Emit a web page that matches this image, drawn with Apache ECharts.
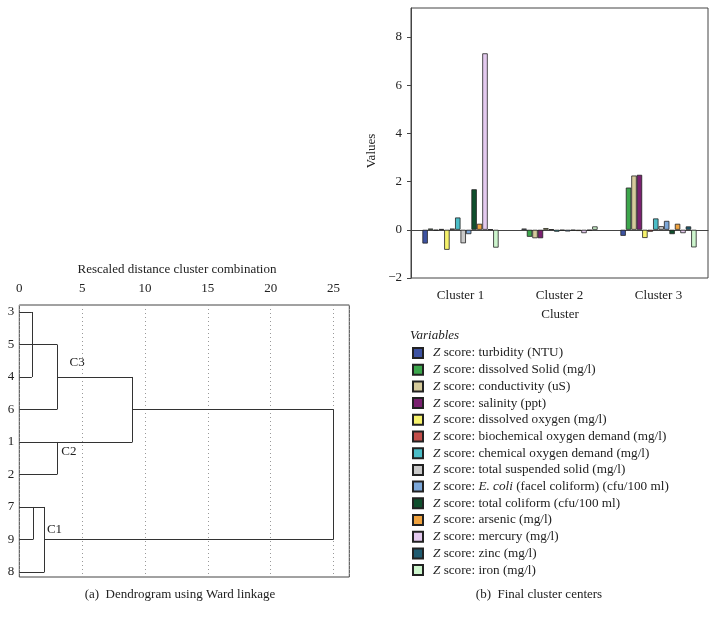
<!DOCTYPE html>
<html><head><meta charset="utf-8">
<script src="https://cdn.jsdelivr.net/npm/echarts@6/dist/echarts.min.js"></script>
<style>html,body{margin:0;padding:0;background:#fff}#c{width:718px;height:623px}</style>
</head><body><div id="c"></div>
<script>
// ---------- Bar chart data (Final cluster centers) ----------
const clusters = ['Cluster 1', 'Cluster 2', 'Cluster 3'];
const variableNames = [
  'Z score: turbidity (NTU)',
  'Z score: dissolved Solid (mg/l)',
  'Z score: conductivity (uS)',
  'Z score: salinity (ppt)',
  'Z score: dissolved oxygen (mg/l)',
  'Z score: biochemical oxygen demand (mg/l)',
  'Z score: chemical oxygen demand (mg/l)',
  'Z score: total suspended solid (mg/l)',
  'Z score: E. coli (facel coliform) (cfu/100 ml)',
  'Z score: total coliform (cfu/100 ml)',
  'Z score: arsenic (mg/l)',
  'Z score: mercury (mg/l)',
  'Z score: zinc (mg/l)',
  'Z score: iron (mg/l)'
];
const turbidity      = [-0.57,  0.05, -0.25];
const dissolvedSolid = [ 0.05, -0.29,  1.75];
const conductivity   = [-0.03, -0.35,  2.25];
const salinity       = [ 0.03, -0.35,  2.28];
const dissolvedO2    = [-0.83,  0.07, -0.34];
const bod            = [ 0.05,  0.02, -0.08];
const cod            = [ 0.51, -0.08,  0.47];
const tss            = [-0.56, -0.03,  0.15];
const eColi          = [-0.18, -0.07,  0.37];
const totalColiform  = [ 1.68, -0.03, -0.18];
const arsenic        = [ 0.25, -0.05,  0.25];
const mercury        = [ 7.32, -0.14, -0.14];
const zinc           = [ 0.02, -0.03,  0.14];
const iron           = [-0.74,  0.14, -0.73];
const seriesValues = [turbidity, dissolvedSolid, conductivity, salinity, dissolvedO2, bod, cod,
  tss, eColi, totalColiform, arsenic, mercury, zinc, iron];
const varColors = ['#3d52a1', '#3ca64c', '#d6cb9c', '#7a2070', '#f6f26c', '#c24e4a', '#4bbdc7',
  '#c9c9c9', '#7ca7d8', '#0f4f2d', '#f0a33f', '#e4caef', '#1f5b70', '#cdf5cd'];
const valueTicks = [-2, 0, 2, 4, 6, 8];

// ---------- Dendrogram data ----------
const leafOrder = ['3', '5', '4', '6', '1', '2', '7', '9', '8'];
// [childA, childB, rescaled distance]; 'mK' refers to merge K
const merges = [
  ['3', '4', 1.0],
  ['m0', '5', 3.0],
  ['m1', '6', 3.0],
  ['1', '2', 3.0],
  ['m2', 'm3', 9.0],
  ['7', '9', 1.1],
  ['m5', '8', 2.0],
  ['m4', 'm6', 25.0]
];
const distanceTicks = [0, 5, 10, 15, 20, 25];
const clusterTags = [['C3', 4.6, 3.1], ['C2', 3.95, 8.6], ['C1', 2.8, 13.4]];

const FONT = 'Liberation Serif';
const TXT = '#222';

function buildDendro() {
  const pos = {};
  leafOrder.forEach((l, i) => { pos[l] = { x: 0, row: 2 * i }; });
  const segs = [];
  merges.forEach((m, k) => {
    const [a, b, d] = m; const A = pos[a], B = pos[b];
    segs.push([[A.x, A.row], [d, A.row]]);
    segs.push([[B.x, B.row], [d, B.row]]);
    segs.push([[d, A.row], [d, B.row]]);
    const mid = (A.row + B.row) / 2;
    pos['m' + k] = { x: d, row: Math.floor(mid / 2) * 2 };
  });
  return segs;
}

const leafRows = leafOrder.map((_, i) => 2 * i);

const barSeries = variableNames.map((n, i) => ({
  type: 'bar', name: n, data: seriesValues[i], xAxisIndex: 0, yAxisIndex: 0,
  barGap: 0, barCategoryGap: '23%',
  itemStyle: { color: varColors[i], borderColor: '#222', borderWidth: 0.8 },
  emphasis: { disabled: true }
}));

const chart = echarts.init(document.getElementById('c'), null, { renderer: 'canvas' });
chart.setOption({
  animation: false,
  textStyle: { fontFamily: FONT },
  grid: [
    { left: 411, top: 8, width: 297, height: 270, show: true, borderColor: '#444', borderWidth: 1, containLabel: false },
    { left: 19.3, top: 305, width: 330, height: 272, show: true, borderColor: '#444', borderWidth: 1, containLabel: false }
  ],
  xAxis: [
    { type: 'category', gridIndex: 0, data: clusters,
      axisLine: { lineStyle: { color: '#444' } },
      axisTick: { alignWithLabel: true, length: 5, lineStyle: { color: '#444' } },
      axisLabel: { fontFamily: FONT, fontSize: 13, color: TXT, margin: 11 } },
    { type: 'value', gridIndex: 1, position: 'top', min: 0, max: 26.25, interval: 5,
      axisLine: { show: false }, axisTick: { show: false },
      axisLabel: { fontFamily: FONT, fontSize: 13, color: TXT, margin: 10, customValues: distanceTicks },
      splitLine: { show: true, lineStyle: { color: '#999', type: [1, 3], width: 1 } } }
  ],
  yAxis: [
    { type: 'value', gridIndex: 0, min: -2, max: 9.2, interval: 2,
      axisLine: { show: true, lineStyle: { color: '#444' } },
      axisTick: { show: true, length: 4, customValues: valueTicks, lineStyle: { color: '#444' } },
      axisLabel: { fontFamily: FONT, fontSize: 13, color: TXT, margin: 9, customValues: valueTicks,
        formatter: v => (v < 0 ? '\u2212' + (-v) : String(v)) },
      splitLine: { show: false } },
    { type: 'value', gridIndex: 1, inverse: true, min: -0.43, max: 16.31,
      axisLine: { show: false }, axisTick: { show: false }, splitLine: { show: false },
      axisLabel: { fontFamily: FONT, fontSize: 13, color: TXT, margin: 5, customValues: leafRows,
        formatter: v => leafOrder[Math.round(v / 2)] } }
  ],
  legend: {
    show: true, orient: 'vertical', left: 412, top: 345, padding: 0,
    itemWidth: 10, itemHeight: 10, itemGap: 0.7, selectedMode: false,
    data: variableNames, icon: 'rect',
    formatter: name => name.replace('Z score', '{i|Z} score').replace('E. coli', '{i|E. coli}'),
    textStyle: { fontFamily: FONT, fontSize: 13.2, color: TXT, lineHeight: 16, padding: [0, 0, 0, 5],
      rich: { i: { fontFamily: FONT, fontSize: 13.2, fontStyle: 'italic', color: TXT, lineHeight: 16 } } }
  },
  series: barSeries.concat([
    { type: 'lines', coordinateSystem: 'cartesian2d', xAxisIndex: 1, yAxisIndex: 1, silent: true,
      data: buildDendro().map(c => ({ coords: c })),
      lineStyle: { color: '#333', width: 1, opacity: 1, curveness: 0 } },
    { type: 'scatter', xAxisIndex: 1, yAxisIndex: 1, silent: true, symbolSize: 0,
      itemStyle: { opacity: 1 },
      data: clusterTags.map(t => [t[1], t[2], t[0]]),
      label: { show: true, position: 'inside', formatter: p => p.data[2],
        fontFamily: FONT, fontSize: 13, color: TXT } }
  ]),
  graphic: [
    { type: 'text', x: 177, y: 270, style: { text: 'Rescaled distance cluster combination', font: '13px "Liberation Serif"', fill: TXT, align: 'center', verticalAlign: 'middle' } },
    { type: 'text', x: 180, y: 595, style: { text: '(a)  Dendrogram using Ward linkage', font: '13px "Liberation Serif"', fill: TXT, align: 'center', verticalAlign: 'middle' } },
    { type: 'text', x: 539, y: 595, style: { text: '(b)  Final cluster centers', font: '13px "Liberation Serif"', fill: TXT, align: 'center', verticalAlign: 'middle' } },
    { type: 'text', x: 410, y: 336, style: { text: 'Variables', font: 'italic 13px "Liberation Serif"', fill: TXT, align: 'left', verticalAlign: 'middle' } },
    { type: 'text', x: 560, y: 315, style: { text: 'Cluster', font: '13px "Liberation Serif"', fill: TXT, align: 'center', verticalAlign: 'middle' } },
    { type: 'text', x: 372, y: 151, rotation: Math.PI / 2, style: { text: 'Values', font: '13px "Liberation Serif"', fill: TXT, align: 'center', verticalAlign: 'middle' } }
  ]
});
</script></body></html>
